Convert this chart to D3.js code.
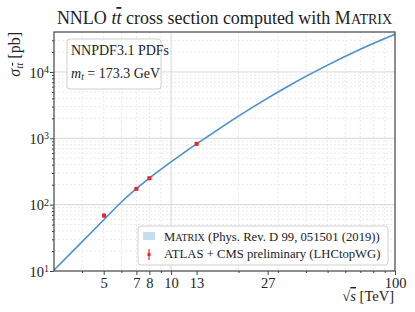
<!DOCTYPE html>
<html>
<head>
<meta charset="utf-8">
<script src="https://cdn.jsdelivr.net/npm/d3@7"></script>
<style>
  body { margin: 0; background: #fff; }
  text { font-family: "Liberation Serif", "DejaVu Serif", serif; fill: #222; }
</style>
</head>
<body>
<script>
// NNLO curve (Matrix), sqrt(s) in TeV -> sigma in pb
const energies = [3, 4, 5, 6, 7, 8, 10, 13, 14, 20, 27, 33, 40, 50, 70, 100];
const sigmaNNLO = [10.3, 27.5, 58.8, 109.6, 174, 251, 440, 825, 975, 2160, 4030, 5980, 8560, 12700, 22000, 37000];
const bandRel = 0.03;

// ATLAS + CMS measurements
const measEnergies = [5.02, 7, 8, 13];
const measSigma = [68.5, 173, 250, 824];
const measErr = [5, 6, 8, 25];

const xMajor = [5, 7, 8, 10, 13, 27, 100];
const xMinor = [4, 6, 9, 20, 30, 40, 50, 60, 70, 80, 90];
const xGridMinor = [4, 5, 6, 7, 8, 9, 20, 30, 40, 50, 60, 70, 80, 90];
const yMajor = [10, 100, 1000, 10000];

const w = 415, h = 312;
const pLeft = 54, pRight = 395, pTop = 32, pBottom = 271;

const svg = d3.select("body").append("svg").attr("width", w).attr("height", h);

const x = d3.scaleLog().domain([3, 100]).range([pLeft, pRight]);
const y = d3.scaleLog().domain([10, 40000]).range([pBottom, pTop]);

const yMinor = [];
[10, 100, 1000, 10000].forEach(d => {
  for (let k = 2; k <= 9; k++) if (d * k < 40000) yMinor.push(d * k);
});

// grid
const grid = svg.append("g");
grid.selectAll(".gxm").data(xGridMinor).enter().append("line")
  .attr("x1", d => x(d)).attr("x2", d => x(d)).attr("y1", pTop).attr("y2", pBottom)
  .attr("stroke", "#e4e4e4").attr("stroke-width", 0.8).attr("stroke-dasharray", "2,2");
grid.selectAll(".gym").data(yMinor).enter().append("line")
  .attr("x1", pLeft).attr("x2", pRight).attr("y1", d => y(d)).attr("y2", d => y(d))
  .attr("stroke", "#e4e4e4").attr("stroke-width", 0.8).attr("stroke-dasharray", "2,2");
grid.selectAll(".gx").data([10]).enter().append("line")
  .attr("x1", d => x(d)).attr("x2", d => x(d)).attr("y1", pTop).attr("y2", pBottom)
  .attr("stroke", "#d6d6d6").attr("stroke-width", 1);
grid.selectAll(".gy").data([100, 1000, 10000]).enter().append("line")
  .attr("x1", pLeft).attr("x2", pRight).attr("y1", d => y(d)).attr("y2", d => y(d))
  .attr("stroke", "#d6d6d6").attr("stroke-width", 1);

// band + line
const pts = energies.map((e, i) => [e, sigmaNNLO[i]]);
const band = d3.area()
  .x(d => x(d[0]))
  .y0(d => y(d[1] * (1 - bandRel)))
  .y1(d => y(d[1] * (1 + bandRel)))
  .curve(d3.curveMonotoneX);
svg.append("path").datum(pts).attr("d", band).attr("fill", "#c6dcef");
const line = d3.line().x(d => x(d[0])).y(d => y(d[1])).curve(d3.curveMonotoneX);
svg.append("path").datum(pts).attr("d", line)
  .attr("fill", "none").attr("stroke", "#4a94cf").attr("stroke-width", 1.5);

// measurements
const meas = svg.append("g");
measEnergies.forEach((e, i) => {
  const cx = x(e);
  meas.append("line").attr("x1", cx).attr("x2", cx)
    .attr("y1", y(measSigma[i] - measErr[i])).attr("y2", y(measSigma[i] + measErr[i]))
    .attr("stroke", "#e8242a").attr("stroke-width", 1.2);
  meas.append("rect").attr("x", cx - 2).attr("y", y(measSigma[i]) - 2)
    .attr("width", 4).attr("height", 4).attr("fill", "#e8242a");
});

// axes
const xAxis = d3.axisBottom(x).tickValues(xMajor).tickFormat(d3.format("d")).tickSize(4).tickPadding(3);
const gx = svg.append("g").attr("transform", `translate(0,${pBottom})`).call(xAxis);
gx.selectAll("text").style("font-size", "14.5px").attr("fill", "#222");
svg.append("g").attr("transform", `translate(0,${pBottom})`)
  .call(d3.axisBottom(x).tickValues(xMinor).tickFormat("").tickSize(2));

const yAxis = d3.axisLeft(y).tickValues(yMajor).tickFormat("").tickSize(4);
const gy = svg.append("g").attr("transform", `translate(${pLeft},0)`).call(yAxis);
gy.selectAll(".tick").each(function(d) {
  const t = d3.select(this).append("text").attr("x", -5).attr("dy", "0.35em")
    .attr("text-anchor", "end").style("font-size", "14.5px").attr("fill", "#222");
  t.append("tspan").text("10");
  t.append("tspan").attr("dy", "-0.45em").style("font-size", "10px").text(Math.round(Math.log10(d)));
});
svg.append("g").attr("transform", `translate(${pLeft},0)`)
  .call(d3.axisLeft(y).tickValues(yMinor).tickFormat("").tickSize(2));

svg.selectAll(".tick line").attr("stroke", "#444");
svg.selectAll(".domain").remove();

// frame
svg.append("rect").attr("x", pLeft).attr("y", pTop).attr("width", pRight - pLeft).attr("height", pBottom - pTop)
  .attr("fill", "none").attr("stroke", "#444").attr("stroke-width", 1.2);

// title
const title = svg.append("text").attr("x", (pLeft + pRight) / 2).attr("y", 24)
  .attr("text-anchor", "middle").style("font-size", "18px");
title.append("tspan").text("NNLO ");
title.append("tspan").style("font-style", "italic").text("t");
title.append("tspan").style("font-style", "italic").style("text-decoration", "overline").text("t");
title.append("tspan").text(" cross section computed with M");
title.append("tspan").style("font-size", "14px").text("ATRIX");

// y label
const yl = svg.append("text").attr("transform", `translate(20,${pTop}) rotate(-90)`)
  .attr("text-anchor", "end").style("font-size", "16px");
yl.append("tspan").style("font-style", "italic").text("σ");
yl.append("tspan").attr("dy", "3").style("font-size", "11px").style("font-style", "italic").text("t");
yl.append("tspan").style("font-size", "11px").style("font-style", "italic").style("text-decoration", "overline").text("t");
yl.append("tspan").attr("dy", "-3").text(" [pb]");

// x label
const xl = svg.append("text").attr("x", pRight - 1).attr("y", 301).attr("text-anchor", "end").style("font-size", "14.5px");
xl.append("tspan").text("√");
xl.append("tspan").style("font-style", "italic").style("text-decoration", "overline").text("s");
xl.append("tspan").text(" [TeV]");

// info box
svg.append("rect").attr("x", 67).attr("y", 39).attr("width", 94).attr("height", 50).attr("rx", 3)
  .attr("fill", "#fff").attr("fill-opacity", 0.85).attr("stroke", "#d0d0d0");
svg.append("text").attr("x", 71).attr("y", 55).style("font-size", "14px").text("NNPDF3.1 PDFs");
const mt = svg.append("text").attr("x", 71).attr("y", 78).style("font-size", "14px");
mt.append("tspan").style("font-style", "italic").text("m");
mt.append("tspan").attr("dy", "2").style("font-size", "9.5px").style("font-style", "italic").text("t");
mt.append("tspan").attr("dy", "-2").text(" = 173.3 GeV");

// legend
svg.append("rect").attr("x", 138).attr("y", 226).attr("width", 250).attr("height", 39).attr("rx", 3)
  .attr("fill", "#fff").attr("fill-opacity", 0.85).attr("stroke", "#d0d0d0");
svg.append("rect").attr("x", 143).attr("y", 232).attr("width", 12).attr("height", 8).attr("fill", "#c6dcef");
const l1 = svg.append("text").attr("x", 164).attr("y", 241).style("font-size", "12.7px");
l1.append("tspan").text("M");
l1.append("tspan").style("font-size", "10px").text("ATRIX");
l1.append("tspan").text(" (Phys. Rev. D 99, 051501 (2019))");
svg.append("line").attr("x1", 149).attr("x2", 149).attr("y1", 249).attr("y2", 260)
  .attr("stroke", "#e8242a").attr("stroke-width", 1.2);
svg.append("rect").attr("x", 147.5).attr("y", 253).attr("width", 3).attr("height", 3).attr("fill", "#e8242a");
svg.append("text").attr("x", 164).attr("y", 258).style("font-size", "12.7px")
  .text("ATLAS + CMS preliminary (LHCtopWG)");
</script>
</body>
</html>
